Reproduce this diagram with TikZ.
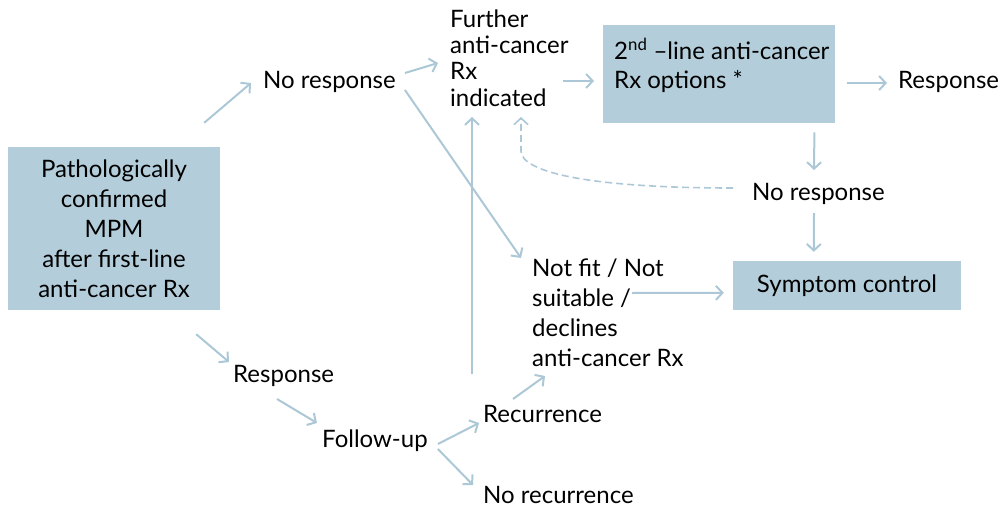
\documentclass[tikz,border=0pt]{standalone}
\usepackage{fontspec}
\setmainfont{Lato}
\usetikzlibrary{arrows.meta,calc}
\definecolor{boxblue}{RGB}{180,205,218}
\definecolor{arrblue}{RGB}{172,200,215}
\begin{document}
\begin{tikzpicture}[x=1pt,y=-1pt,
  txt/.style={inner sep=0pt, font=\fontsize{24}{28}\selectfont, text=black},
  box/.style={fill=boxblue, inner sep=0pt, text=black},
  arr/.style={draw=arrblue, line width=2pt, -{Straight Barb[length=6.5pt,width=14pt]}},
  dsh/.style={dash pattern=on 7pt off 4pt, line width=1.6pt}]
\useasboundingbox (0,0) rectangle (1008,508);

\node[box, minimum width=212pt, minimum height=163pt, align=center, font=\fontsize{24}{30}\selectfont] (main) at (114,228.5) {Pathologically\\confirmed\\MPM\\after first-line\\anti-cancer Rx};
\node[txt, anchor=base west] (nr1) at (263,89) {No response};
\node[txt, anchor=north west, align=left, font=\fontsize{24}{26.3}\selectfont] (further) at (450,9) {\rule{0pt}{18pt}Further\\anti-cancer\\Rx\\indicated};
\node[box, minimum width=232pt, minimum height=98pt, anchor=north west] (box2) at (603,25) {};
\node[txt, anchor=north west, align=left, font=\fontsize{24}{29}\selectfont] (box2txt) at (614,38) {\rule{0pt}{18pt}2\textsuperscript{nd} –line anti-cancer\\Rx options *};
\node[txt, anchor=base west] (respr) at (898,89) {Response};
\node[txt, anchor=base west] (nr2) at (752,200) {No response};
\node[box, minimum width=228pt, minimum height=49pt, font=\fontsize{24}{28}\selectfont] (sym) at (847,285.5) {Symptom control};
\node[txt, anchor=north west, align=left, font=\fontsize{24}{30}\selectfont] (notfit) at (532,258) {\rule{0pt}{18pt}Not fit / Not\\suitable /\\declines\\anti-cancer Rx};
\node[txt, anchor=base west] (resp) at (233,382) {Response};
\node[txt, anchor=base west] (fu) at (322,447) {Follow-up};
\node[txt, anchor=base west] (rec) at (483,422) {Recurrence};
\node[txt, anchor=base west] (norec) at (483,503) {No recurrence};

\draw[arr] ($(main.north east)+(-16,-24)$) -- ($(nr1.base west)+(-12,-6)$);
\draw[arr] ($(nr1.base east)+(9,-16)$) -- ($(further.north west)+(-12,54)$);
\draw[arr] ($(nr1.base east)+(9,1)$) -- ($(notfit.north west)+(-11,0)$);
\draw[arr] ($(box2.north west)+(-40,56)$) -- ($(box2.north west)+(-9,56)$);
\draw[arr] ($(box2.north east)+(12,58)$) -- ($(respr.base west)+(-11,-6)$);
\draw[arr] ($(box2.south east)+(-21,9)$) -- ($(nr2.base west)+(62,-30)$);
\draw[arr] ($(nr2.base west)+(62,13)$) -- ($(sym.north west)+(81,-9)$);
\draw[arr, dsh] ($(nr2.base west)+(-19,-12)$) .. controls +(-150,0) and +(0,20) .. ($(further.north west)+(71,142)$) -- ($(further.north west)+(71,108)$);
\draw[arr] ($(notfit.north west)+(100,35)$) -- ($(sym.north west)+(-9,32)$);
\draw[arr] ($(rec.base west)+(30,-23)$) -- ($(notfit.north west)+(13,118)$);
\draw[arr] ($(rec.base west)+(-11,-48)$) -- ($(further.north west)+(22,108)$);
\draw[arr] ($(main.south east)+(-24,24)$) -- ($(resp.base west)+(-4,-20)$);
\draw[arr] ($(resp.base west)+(44,17)$) -- ($(fu.base west)+(-5,-24)$);
\draw[arr] ($(fu.base east)+(10,-3)$) -- ($(rec.base west)+(-4,1)$);
\draw[arr] ($(fu.base east)+(10,2)$) -- ($(norec.base west)+(-10,-18)$);
\end{tikzpicture}
\end{document}
